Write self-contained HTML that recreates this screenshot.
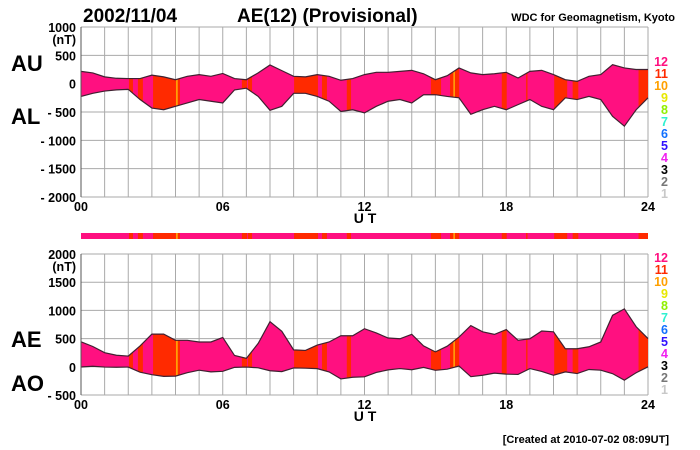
<!DOCTYPE html>
<html><head><meta charset="utf-8"><style>
body{margin:0;background:#fff;width:700px;height:450px;overflow:hidden}
svg{display:block;font-family:"Liberation Sans",Arial,sans-serif;font-weight:bold}
</style></head><body>
<svg id="c" width="700" height="450"></svg>
<script>
const hours=[0,0.5,1,1.5,2,2.5,3,3.5,4,4.5,5,5.5,6,6.5,7,7.5,8,8.5,9,9.5,10,10.5,11,11.5,12,12.5,13,13.5,14,14.5,15,15.5,16,16.5,17,17.5,18,18.5,19,19.5,20,20.5,21,21.5,22,22.5,23,23.5,24];
const auValues=[217,190,120,95,90,90,150,120,70,130,160,130,180,90,70,190,330,230,130,120,160,130,60,90,160,200,200,217,235,175,70,140,277,190,160,175,200,100,217,235,160,70,40,130,160,335,277,250,250];
const alValues=[-225,-170,-130,-110,-100,-280,-430,-460,-400,-340,-280,-310,-340,-110,-80,-225,-470,-400,-170,-170,-225,-310,-490,-460,-515,-400,-310,-280,-340,-195,-195,-225,-250,-540,-460,-400,-460,-370,-280,-400,-460,-250,-280,-225,-280,-577,-750,-460,-250];
const segStart=[2.03,2.41,3.05,4.02,4.1,6.81,7.07,9.02,10.2,11.25,14.81,15.62,15.76,15.83,17.81,18.84,20.03,20.81,23.6];
const segEnd=[2.2,2.62,4.02,4.1,4.19,7.03,7.24,10.03,10.41,11.43,15.24,15.76,15.83,16.01,18.02,18.9,20.58,21.05,24];
const segCount=[11,11,11,10,11,11,11,11,11,11,11,11,10,11,11,11,11,11,11];
const legendLabels=['12','11','10','9','8','7','6','5','4','3','2','1'];
const legendColors=['#ff1080','#ff2a00','#ffa000','#e8e800','#90f000','#30f0d0','#1070ff','#3010ff','#f020f0','#000','#777','#c8c8c8'];
const topTicks=[1000,500,0,-500,-1000,-1500,-2000];
const botTicks=[2000,1500,1000,500,0,-500];
const xTicks=['00','06','12','18','24'];
const colorOf={12:'#ff1080',11:'#ff2a00',10:'#ffa000'};

const NS='http://www.w3.org/2000/svg',svg=document.getElementById('c');
function el(t,a,p){const e=document.createElementNS(NS,t);for(const k in a)e.setAttribute(k,a[k]);(p||svg).appendChild(e);return e;}
const X0=81,X1=648;
const xs=h=>X0+(X1-X0)*h/24;
function txt(s,x,y,size,anchor,name,fill){const t=el('text',{x,y,'font-size':size,'text-anchor':anchor||'start',fill:fill||'#000'});t.textContent=s;

return t;}

function panel(id,top,bot,vmax,vmin,ticks,upper,lower,leg0){
  const ys=v=>top+(vmax-v)*(bot-top)/(vmax-vmin);
  const g=el('g',{});
  
  
  for(let h=0;h<=24;h++)el('line',{x1:xs(h),x2:xs(h),y1:top,y2:bot,stroke:'#aaa','stroke-width':1},g);
  ticks.forEach(v=>{el('line',{x1:X0,x2:X1,y1:ys(v),y2:ys(v),stroke:'#aaa','stroke-width':1},g);
    txt((v<0?'- ':'')+Math.abs(v),76,ys(v)+5,12.5,'end',id+'-y-tick-label');});
  txt('(nT)',76,top+17,12.5,'end',id+'-y-unit');
  let up=hours.map((h,i)=>xs(h)+','+ys(upper[i])).join(' ');
  let lo=hours.map((h,i)=>xs(h)+','+ys(lower[i])).reverse().join(' ');
  const cp=el('clipPath',{id:'cp'+id},g);el('polygon',{points:up+' '+lo},cp);
  const fg=el('g',{'clip-path':'url(#cp'+id+')'},g);
  el('rect',{x:X0,y:top,width:X1-X0,height:bot-top,fill:colorOf[12]},fg);
  segStart.forEach((s,i)=>{const r=el('rect',{x:xs(s),y:top,width:xs(segEnd[i])-xs(s),height:bot-top,fill:colorOf[segCount[i]]},fg);
    
    });
  const pu=el('polyline',{points:up,fill:'none',stroke:'#402030','stroke-width':1.2},g);
  
  
  const pl=el('polyline',{points:hours.map((h,i)=>xs(h)+','+ys(lower[i])).join(' '),fill:'none',stroke:'#402030','stroke-width':1.2},g);
  
  
  el('line',{x1:X0,x2:X0,y1:top,y2:bot,stroke:'#555'},g);
  xTicks.forEach((s,i)=>txt(s,xs(i*6),bot+14,12.5,'middle',id+'-x-tick-label'));
  txt('U T',365,bot+26,14,'middle',id+'-x-axis-title');
  legendLabels.forEach((s,i)=>txt(s,668,leg0+i*12,12.5,'end',id+'-legend-entry',legendColors[i]));
}
panel('top',27,197,1000,-2000,topTicks,auValues,alValues,66);
const aeValues=auValues.map((u,i)=>u-alValues[i]);
const aoValues=auValues.map((u,i)=>(u+alValues[i])/2);
panel('bottom',254,395,2000,-500,botTicks,aeValues,aoValues,262);

// color bar
const cb=el('rect',{x:X0,y:233,width:X1-X0,height:6,fill:colorOf[12]});


segStart.forEach((s,i)=>{const r=el('rect',{x:xs(s),y:233,width:xs(segEnd[i])-xs(s),height:6,fill:colorOf[segCount[i]]});
  
  });

txt('2002/11/04',83,22,19,'start','date-title');
txt('AE(12) (Provisional)',237,22,19,'start','chart-title');
txt('WDC for Geomagnetism, Kyoto',675,21,11,'end','source-label');
txt('AU',11,71,22,'start','au-label');
txt('AL',11,124,22,'start','al-label');
txt('AE',11,347,22,'start','ae-label');
txt('AO',11,391,22,'start','ao-label');
txt('[Created at 2010-07-02 08:09UT]',669,443,11,'end','created-footer');
</script>
</body></html>
